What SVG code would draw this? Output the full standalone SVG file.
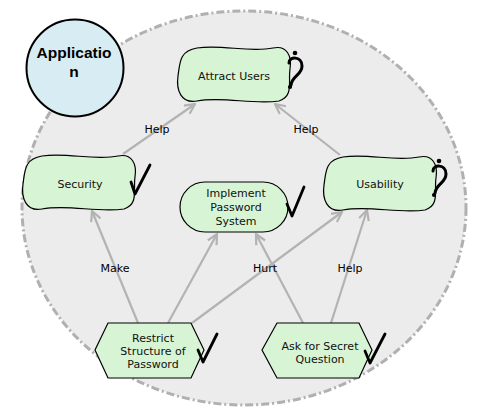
<svg xmlns="http://www.w3.org/2000/svg" width="477" height="417" viewBox="0 0 477 417">
<style>
.bg{fill:#ececec;stroke:#b0b0b0;stroke-width:3;stroke-dasharray:8 3 2 3}
.node{fill:#d7f4d4;stroke:#000;stroke-width:1.2}
.actor{fill:#d7edf3;stroke:#000;stroke-width:2}
.t{font-family:"DejaVu Sans",Verdana,sans-serif;font-size:11px;fill:#111;text-anchor:middle}
.lbl{font-family:"DejaVu Sans",Verdana,sans-serif;font-size:11px;fill:#000;text-anchor:middle}
.at{font-family:"Liberation Sans",Arial,sans-serif;font-size:15.5px;font-weight:bold;fill:#000;text-anchor:middle}
.link{stroke:#b3b3b3;stroke-width:2.2;fill:none;marker-end:url(#arr)}
.chk{stroke:#000;stroke-width:2.8;fill:none;stroke-linecap:round;stroke-linejoin:round}
.q{stroke:#000;stroke-width:3;fill:none;stroke-linecap:round}
</style>
<defs>
<marker id="arr" markerUnits="userSpaceOnUse" viewBox="0 0 12 12" refX="11" refY="6" markerWidth="12" markerHeight="12" orient="auto">
<path d="M1,1 L11,6 L1,11" stroke="#b3b3b3" stroke-width="2.2" fill="none"/>
</marker>
<path id="cloud" d="M20,2 C45,-2 72,7 96,2 C110,-1 115,10 113,23 C111,36 117,50 102,55 C76,59 46,50 20,55 C4,58 -1,44 1,30 C3,17 2,5 20,2 Z"/>
<g id="qm">
<circle cx="7" cy="2" r="2.3" fill="#000"/>
<path class="q" d="M1,12 C1,5 14,5 14,15 C14,24 4,25 3,34"/>
<circle cx="2" cy="36" r="2.1" fill="#000"/>
</g>
</defs>

<ellipse class="bg" cx="244" cy="208" rx="222" ry="197"/>

<g id="connectors">
<line class="link" x1="123" y1="154" x2="195" y2="104"/>
<line class="link" x1="340" y1="155" x2="275" y2="104"/>
<line class="link" x1="138" y1="323" x2="92" y2="211"/>
<line class="link" x1="168" y1="323" x2="217" y2="234"/>
<line class="link" x1="192" y1="323" x2="342" y2="212"/>
<line class="link" x1="303" y1="323" x2="256" y2="234"/>
<line class="link" x1="331" y1="323" x2="367" y2="210"/>
<text class="lbl" x="157" y="133">Help</text>
<text class="lbl" x="306" y="133">Help</text>
<text class="lbl" x="115" y="272">Make</text>
<text class="lbl" x="265" y="272">Hurt</text>
<text class="lbl" x="350" y="272">Help</text>
</g>

<g id="application">
<circle class="actor" cx="75" cy="68" r="48.5"/>
<text class="at" x="74" y="58">Applicatio</text>
<text class="at" x="74" y="77">n</text>
</g>

<g id="attract-users">
<use href="#cloud" class="node" transform="translate(177,46)"/>
<text class="t" x="234" y="80">Attract Users</text>
<use href="#qm" transform="translate(288,51)"/>
</g>

<g id="security">
<use href="#cloud" class="node" transform="translate(22,154)"/>
<text class="t" x="80" y="188">Security</text>
<path class="chk" d="M131,182 L135,194 L150,165"/>
</g>

<g id="usability">
<use href="#cloud" class="node" transform="translate(323,155)"/>
<text class="t" x="380" y="188">Usability</text>
<use href="#qm" transform="translate(432,159)"/>
</g>

<g id="implement-password-system">
<rect class="node" x="180" y="182" width="108" height="50" rx="25"/>
<text class="t" x="236" y="197">Implement</text>
<text class="t" x="236" y="211">Password</text>
<text class="t" x="236" y="225">System</text>
<path class="chk" d="M287,204 L292,216 L304,187"/>
</g>

<g id="restrict-structure">
<polygon class="node" points="95,350 108,323 191,323 204,350 191,378 108,378"/>
<text class="t" x="153" y="342">Restrict</text>
<text class="t" x="153" y="355">Structure of</text>
<text class="t" x="153" y="368">Password</text>
<path class="chk" d="M198,350 L203,362 L217,334"/>
</g>

<g id="ask-secret-question">
<polygon class="node" points="262,350 277,323 359,323 372,350 359,378 277,378"/>
<text class="t" x="320" y="350">Ask for Secret</text>
<text class="t" x="320" y="363">Question</text>
<path class="chk" d="M365,351 L370,363 L385,334"/>
</g>
</svg>
